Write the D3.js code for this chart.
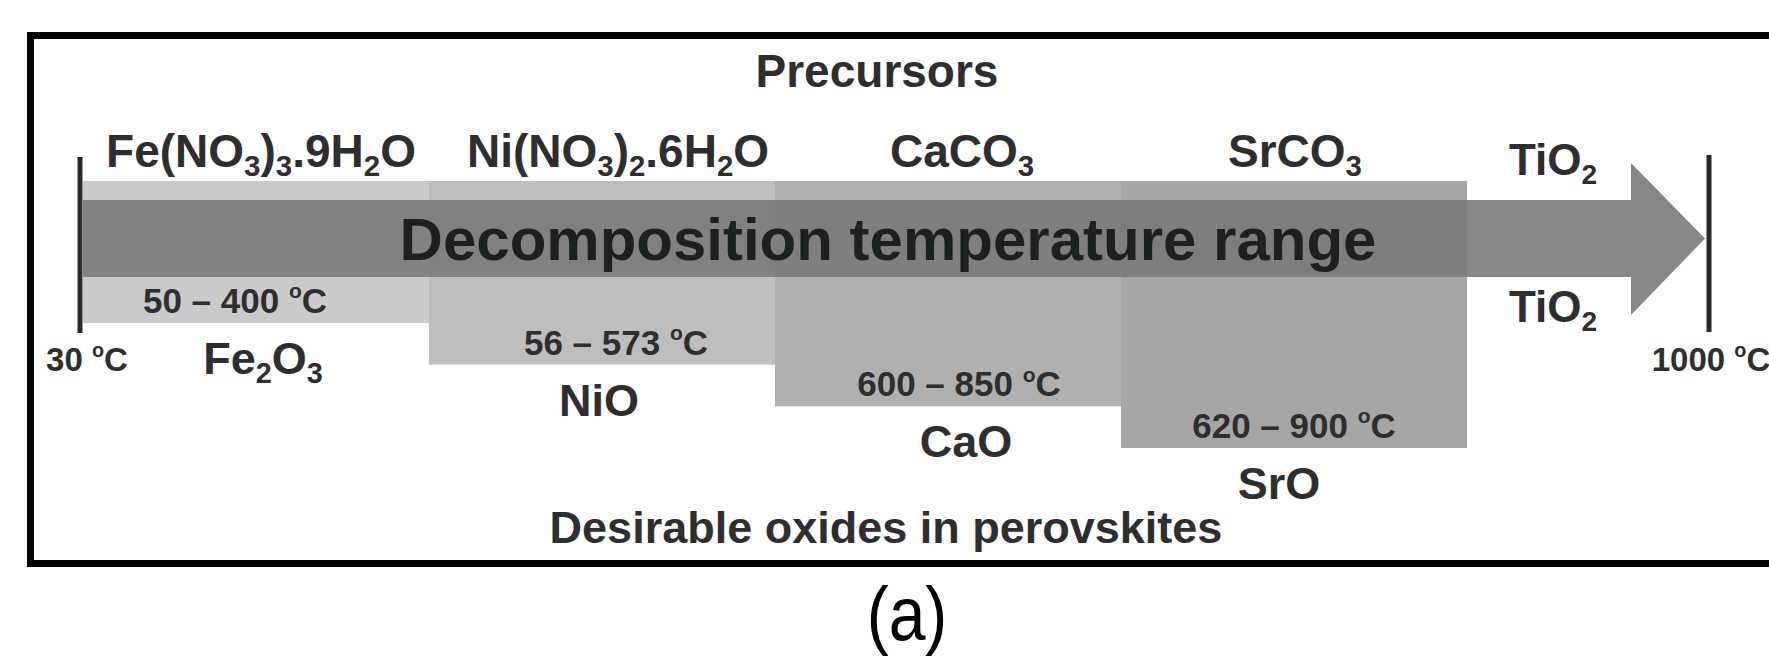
<!DOCTYPE html>
<html>
<head>
<meta charset="utf-8">
<script src="https://cdn.jsdelivr.net/npm/d3@7"></script>
<style>
  html, body { margin: 0; padding: 0; background: #fff; }
  svg { display: block; }
  text { font-family: "Liberation Sans", Arial, Helvetica, sans-serif; }
</style>
</head>
<body>
<svg id="chart" width="1769" height="658"></svg>
<script>
// Precursor salts, the oxides they decompose to, and their decomposition ranges (°C).
// "_x" marks a subscript character, "^x" a superscript character.
const precursors = ["Fe(NO_3)_3.9H_2O", "Ni(NO_3)_2.6H_2O", "CaCO_3", "SrCO_3"];
const oxides = ["Fe_2O_3", "NiO", "CaO", "SrO"];
const rangeLow = [50, 56, 600, 620];
const rangeHigh = [400, 573, 850, 900];
const stableOxide = "TiO_2";
const tempTicks = [30, 1000];

const svg = d3.select("#chart");
const W = 1769, H = 658;
svg.append("rect").attr("width", W).attr("height", H).attr("fill", "#fff");

// Temperature axis: the two end markers of the heating window.
const xTemp = d3.scaleLinear().domain([30, 1000]).range([80, 1709]);
// Each precursor gets an equal slot along the arrow.
const xBand = d3.scaleBand().domain(precursors).range([83, 1467]).padding(0);
// Stepped lower edge of each precursor block.
const yStep = d3.scalePoint().domain(precursors).range([323, 448]);
const fill = d3.scaleOrdinal().domain(precursors).range(["#cacaca", "#bebebe", "#b0b0b0", "#a6a6a6"]);

// Layout: horizontal nudges of the labels within each slot (px).
const nameNudge = [5, 16, 14, 1];
const rangeNudge = [-21, 14, 11, 0];
const oxideNudge = [7, -3, 18, -15];

const boxTop = 181;
const shaftTop = 200, shaftBottom = 277;
const headTop = 163, headBottom = 315;
const centerX = 884;
const ink = "#2e2e2e";

// Writes a formula string into a <text>, with sub/superscript tspans.
function rich(sel, str, fs) {
  const parts = [];
  for (let i = 0; i < str.length; i++) {
    const c = str[i];
    if ((c === "_" || c === "^") && i + 1 < str.length) {
      parts.push({ t: str[i + 1], k: c === "_" ? "sub" : "sup" });
      i++;
    } else {
      const last = parts[parts.length - 1];
      if (last && last.k === "n") last.t += c; else parts.push({ t: c, k: "n" });
    }
  }
  let shift = 0;
  parts.forEach(p => {
    const ts = sel.append("tspan").text(p.t);
    let target = 0, size = fs;
    if (p.k === "sub") { target = 0.2 * fs; size = 0.64 * fs; }
    if (p.k === "sup") { target = -0.42 * fs; size = 0.6 * fs; }
    ts.attr("font-size", size).attr("dy", target - shift);
    shift = target;
  });
  return sel;
}

function label(x, y, str, fs, opts = {}) {
  const t = svg.append("text")
    .attr("x", x).attr("y", y)
    .attr("text-anchor", opts.anchor || "middle")
    .attr("font-size", fs)
    .attr("font-weight", opts.weight || "bold")
    .attr("fill", opts.color || ink);
  rich(t, str, fs);
  return t;
}

const mid = p => xBand(p) + xBand.bandwidth() / 2;

// Precursor blocks
svg.append("g").selectAll("rect")
  .data(precursors)
  .join("rect")
  .attr("x", d => xBand(d))
  .attr("y", boxTop)
  .attr("width", xBand.bandwidth())
  .attr("height", d => yStep(d) - boxTop)
  .attr("fill", d => fill(d));

// Temperature end markers
svg.append("g").selectAll("line")
  .data(tempTicks)
  .join("line")
  .attr("x1", d => xTemp(d)).attr("x2", d => xTemp(d))
  .attr("y1", (d, i) => i === 0 ? 157 : 155)
  .attr("y2", (d, i) => i === 0 ? 333 : 332)
  .attr("stroke", "#2b2b2b")
  .attr("stroke-width", 5);

// Heating arrow
const shaftStart = xBand.range()[0];
const tipX = xTemp(1000) - 4;
const headBase = tipX - 74;
const midY = (shaftTop + shaftBottom) / 2;
const arrow = d3.path();
arrow.moveTo(shaftStart, shaftTop);
arrow.lineTo(headBase, shaftTop);
arrow.lineTo(headBase, headTop);
arrow.lineTo(tipX, midY);
arrow.lineTo(headBase, headBottom);
arrow.lineTo(headBase, shaftBottom);
arrow.lineTo(shaftStart, shaftBottom);
arrow.closePath();
svg.append("path").attr("d", arrow.toString())
  .attr("fill", "#7a7a7a").attr("fill-opacity", 0.9);

label(centerX + 4, midY + 21.5, "Decomposition temperature range", 60, { color: "#1b2121" });

// Precursor names
precursors.forEach((p, i) => label(mid(p) + nameNudge[i], 167, p, 46));

// Decomposition ranges, inside each block
precursors.forEach((p, i) =>
  label(mid(p) + rangeNudge[i], yStep(p) - 10,
        `${rangeLow[i]} – ${rangeHigh[i]} ^oC`, 35));

// Resulting oxides, under each block
precursors.forEach((p, i) =>
  label(mid(p) + oxideNudge[i], yStep(p) + 51, oxides[i], 45));

// TiO2 is stable across the whole range
const tiX = (xBand.range()[1] + headBase) / 2 + 4;
label(tiX, 175, stableOxide, 44);
label(tiX, 322, stableOxide, 44);

// End temperatures
tempTicks.forEach((t, i) => label(xTemp(t) + (i === 0 ? 7 : 2), 371, `${t} ^oC`, 33));

label(centerX - 7, 87, "Precursors", 46);
label(centerX + 2, 543, "Desirable oxides in perovskites", 45);

// Panel frame
svg.append("rect")
  .attr("x", 30.5).attr("y", 35.5)
  .attr("width", 1800).attr("height", 528)
  .attr("fill", "none").attr("stroke", "#000").attr("stroke-width", 7);

// Panel letter, set in a tall face
svg.append("text")
  .attr("transform", "translate(907,640) scale(1,1.15)")
  .attr("text-anchor", "middle").attr("font-size", 66)
  .attr("fill", "#000").text("(a)");
</script>
</body>
</html>
